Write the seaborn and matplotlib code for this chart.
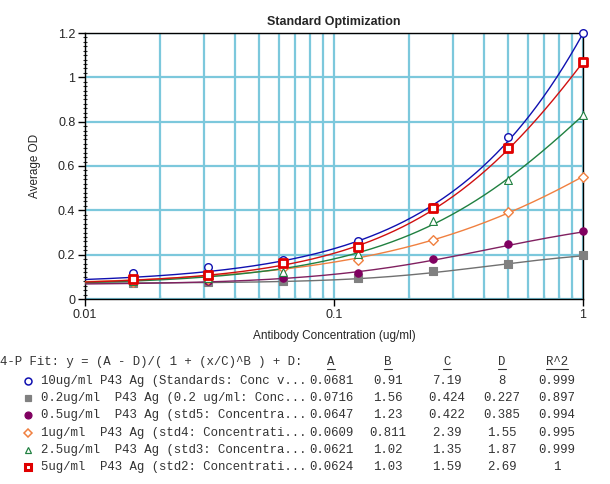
import numpy as np
import pandas as pd
import matplotlib
matplotlib.use("Agg")
import matplotlib.pyplot as plt
from matplotlib.lines import Line2D
from matplotlib.ticker import FixedLocator, MultipleLocator, FuncFormatter
import seaborn as sns

# ---------------- data ----------------
conc = [0.015625, 0.03125, 0.0625, 0.125, 0.25, 0.5, 1.0]
series_names = [
    "10ug/ml P43 Ag (Standards: Conc v...",
    "0.2ug/ml  P43 Ag (0.2 ug/ml: Conc...",
    "0.5ug/ml  P43 Ag (std5: Concentra...",
    "1ug/ml  P43 Ag (std4: Concentrati...",
    "2.5ug/ml  P43 Ag (std3: Concentra...",
    "5ug/ml  P43 Ag (std2: Concentrati...",
]
od_10 = [0.117, 0.144, 0.176, 0.262, 0.415, 0.73, 1.2]
od_02 = [0.073, 0.077, 0.083, 0.095, 0.126, 0.158, 0.198]
od_05 = [0.075, 0.080, 0.096, 0.117, 0.180, 0.248, 0.307]
od_1 = [0.078, 0.090, 0.140, 0.176, 0.266, 0.392, 0.550]
od_25 = [0.080, 0.095, 0.123, 0.205, 0.352, 0.537, 0.830]
od_5 = [0.089, 0.108, 0.162, 0.235, 0.410, 0.680, 1.070]
series_values = [od_10, od_02, od_05, od_1, od_25, od_5]

fit_A = [0.0681, 0.0716, 0.0647, 0.0609, 0.0621, 0.0624]
fit_B = [0.91, 1.56, 1.23, 0.811, 1.02, 1.03]
fit_C = [7.19, 0.424, 0.422, 2.39, 1.35, 1.59]
fit_D = [8, 0.227, 0.385, 1.55, 1.87, 2.69]
fit_A_txt = ["0.0681", "0.0716", "0.0647", "0.0609", "0.0621", "0.0624"]
fit_B_txt = ["0.91", "1.56", "1.23", "0.811", "1.02", "1.03"]
fit_C_txt = ["7.19", "0.424", "0.422", "2.39", "1.35", "1.59"]
fit_D_txt = ["8", "0.227", "0.385", "1.55", "1.87", "2.69"]
fit_R2_txt = ["0.999", "0.897", "0.994", "0.995", "0.999", "1"]

y_ticks = [0, 0.2, 0.4, 0.6, 0.8, 1.0, 1.2]
x_ticks = [0.01, 0.1, 1]
x_tick_labels = ["0.01", "0.1", "1"]

# ---------------- styles ----------------
line_colors = ["#1010b0", "#707070", "#802060", "#f08040", "#208040", "#d01010"]
marker_face = ["white", "#808080", "#800060", "white", "white", "white"]
marker_edge = ["#1010b0", "#808080", "#800060", "#f08040", "#208040", "#e00000"]
marker_shape = ["o", "s", "o", "D", "^", "s"]
marker_size = [30, 32, 28, 24, 32, 36]
marker_lw = [1.0, 0.8, 0.8, 1.0, 0.8, 2.0]

sns.set_theme(style="white")
plt.rcParams["font.family"] = ["Liberation Sans", "DejaVu Sans"]

fig = plt.figure(figsize=(6.10, 4.84), dpi=100)
W, H = 610, 484
ax = fig.add_axes([85 / W, (H - 299) / H, 498 / W, 266 / H])

x_fit = np.geomspace(0.01, 1.0, 300)
for i in range(len(series_names)):
    A, B, C, D = fit_A[i], fit_B[i], fit_C[i], fit_D[i]
    y_fit = (A - D) / (1 + (x_fit / C) ** B) + D
    sns.lineplot(x=x_fit, y=y_fit, ax=ax, color=line_colors[i], lw=1.0,
                 estimator=None, sort=False, zorder=3)
for i in range(len(series_names)):
    df = pd.DataFrame({"x": conc, "y": series_values[i]})
    sns.scatterplot(data=df, x="x", y="y", ax=ax, marker=marker_shape[i],
                    s=marker_size[i], facecolor=marker_face[i],
                    edgecolor=marker_edge[i], linewidth=marker_lw[i], zorder=4,
                    clip_on=False)

ax.set_xscale("log")
ax.set_xlim(0.01, 1.0)
ax.set_ylim(0, 1.2)
ax.set_xlabel("Antibody Concentration (ug/ml)", fontsize=8.5, labelpad=7)
ax.set_ylabel("Average OD", fontsize=8.5, labelpad=12)
ax.set_title("Standard Optimization", fontsize=9, fontweight="bold", pad=6)

ax.xaxis.set_major_locator(FixedLocator(x_ticks))
ax.xaxis.set_major_formatter(FuncFormatter(lambda v, p: x_tick_labels[x_ticks.index(min(x_ticks, key=lambda t: abs(t - v)))]))
ax.xaxis.set_minor_locator(matplotlib.ticker.LogLocator(base=10, subs=np.arange(2, 10)))
ax.xaxis.set_minor_formatter(matplotlib.ticker.NullFormatter())
ax.yaxis.set_major_locator(FixedLocator(y_ticks))
ax.yaxis.set_major_formatter(FuncFormatter(lambda v, p: f"{v:g}"))
ax.yaxis.set_minor_locator(MultipleLocator(0.02))

ax.grid(True, which="both", axis="x", color="#7cc8dc", lw=1.6, zorder=0)
ax.grid(True, which="major", axis="y", color="#7cc8dc", lw=1.6, zorder=0)
ax.set_axisbelow(True)
ax.tick_params(axis="both", which="major", labelsize=9, length=5, width=1,
               color="black", direction="out", left=True, bottom=True, pad=2)
ax.tick_params(axis="y", which="minor", length=3, width=0.8, direction="inout", left=True)
ax.tick_params(axis="x", which="minor", length=3, width=1, direction="in", bottom=True, color="#7cc8dc")
for s in ax.spines.values():
    s.set_color("black")
    s.set_linewidth(1.0)

# ---------------- fit table ----------------
mono = ["Liberation Mono", "DejaVu Sans Mono"]
fs = 8.9
def fx(px):
    return px / W
def fy(py):
    return 1 - py / H

fig.text(fx(0.5), fy(362), "4-P Fit: y = (A - D)/( 1 + (x/C)^B ) + D:", family=mono,
         fontsize=fs, va="center", ha="left", color="#333333")
col_x = [331, 388, 447, 502, 557]
headers = ["A", "B", "C", "D", "R^2"]
for cx, htxt in zip(col_x, headers):
    fig.text(fx(cx), fy(362), htxt, family=mono, fontsize=fs, va="center",
             ha="center", color="#333333")
    half = 3.7 * len(htxt)
    fig.add_artist(Line2D([fx(cx - half), fx(cx + half)], [fy(369), fy(369)],
                          color="#333333", lw=0.8))

row_y = [381, 398, 415, 433, 450, 467]
val_cols = [fit_A_txt, fit_B_txt, fit_C_txt, fit_D_txt, fit_R2_txt]
for i, name in enumerate(series_names):
    py = row_y[i]
    fig.add_artist(Line2D([fx(28)], [fy(py)], marker=marker_shape[i],
                          markersize=5 if marker_shape[i] != "D" else 4,
                          markerfacecolor=marker_face[i], markeredgecolor=marker_edge[i],
                          markeredgewidth=marker_lw[i] * 1.1, linestyle="none"))
    fig.text(fx(41), fy(py), name, family=mono, fontsize=fs, va="center", ha="left",
             color="#333333")
    for cx, vals in zip(col_x, val_cols):
        fig.text(fx(cx), fy(py), vals[i], family=mono, fontsize=fs, va="center",
                 ha="center", color="#333333")

fig.savefig("out.png", dpi=100, facecolor="white")
